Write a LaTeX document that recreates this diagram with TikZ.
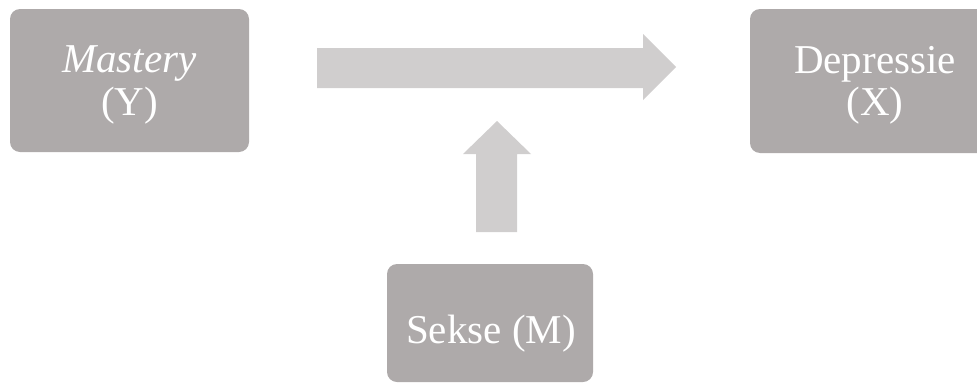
\documentclass[tikz,border=0pt]{standalone}
\usepackage{fontspec}
\setmainfont{Liberation Serif}
\definecolor{boxgrey}{HTML}{AEAAAA}
\definecolor{arrowgrey}{HTML}{D0CECE}
\begin{document}
\begin{tikzpicture}[x=1pt,y=-1pt,
  varbox/.style={fill=boxgrey,rounded corners=10pt},
  lbl/.style={text=white,anchor=base,inner sep=0pt,font=\fontsize{41}{44}\selectfont}]
\useasboundingbox (0,0) rectangle (977,383);
\begin{scope}
\clip (0,0) rectangle (977,383);
% boxes
\fill[varbox] (10,9) rectangle (249,152);
\fill[varbox] (750,9) rectangle (1000,153);
\fill[varbox] (387,264) rectangle (593,382);
% block arrows
\fill[arrowgrey] (317,48) -- (643,48) -- (643,34) -- (676,67) -- (643,100) -- (643,88) -- (317,88) -- cycle;
\fill[arrowgrey] (476,232) -- (476,154) -- (463,154) -- (497,121) -- (531,154) -- (517,154) -- (517,232) -- cycle;
\end{scope}
% labels
\node[lbl] (y1) at (129.5,72) {\itshape Mastery};
\node[lbl] (y2) at (129.5,115) {(Y)};
\node[lbl] (x1) at (875,73) {Depressie};
\node[lbl] (x2) at (875,115) {(X)};
\node[lbl] (m) at (491,343) {Sekse (M)};
\end{tikzpicture}
\end{document}
